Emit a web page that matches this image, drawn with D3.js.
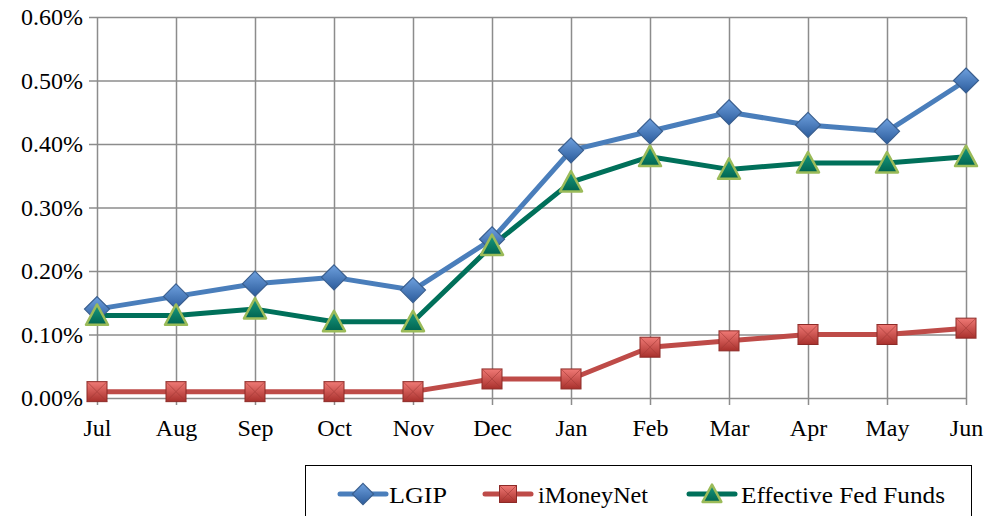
<!DOCTYPE html>
<html>
<head>
<meta charset="utf-8">
<script src="https://cdn.jsdelivr.net/npm/d3@7"></script>
<style>
  body { margin: 0; background: #fff; }
</style>
</head>
<body>
<div id="chart"></div>
<script>
var months = ["Jul", "Aug", "Sep", "Oct", "Nov", "Dec", "Jan", "Feb", "Mar", "Apr", "May", "Jun"];
var lgip = [0.14, 0.16, 0.18, 0.19, 0.17, 0.25, 0.39, 0.42, 0.45, 0.43, 0.42, 0.50];
var imoneynet = [0.01, 0.01, 0.01, 0.01, 0.01, 0.03, 0.03, 0.08, 0.09, 0.10, 0.10, 0.11];
var fedFunds = [0.13, 0.13, 0.14, 0.12, 0.12, 0.24, 0.34, 0.38, 0.36, 0.37, 0.37, 0.38];
var yTicks = [0, 0.1, 0.2, 0.3, 0.4, 0.5, 0.6];
var seriesNames = ["LGIP", "iMoneyNet", "Effective Fed Funds"];

var FONT = "Liberation Serif";

var svgWidth = 990, svgHeight = 516;
var margin = { top: 17, right: 24, bottom: 118, left: 97 };
var width = svgWidth - margin.left - margin.right;
var height = svgHeight - margin.top - margin.bottom;

var svg = d3.select("#chart").append("svg")
  .attr("width", svgWidth)
  .attr("height", svgHeight)
  .attr("font-family", FONT);

// gradients for the markers
var defs = svg.append("defs");
function grad(id, c1, c2) {
  var g = defs.append("linearGradient").attr("id", id)
    .attr("x1", 0).attr("y1", 0).attr("x2", 0).attr("y2", 1);
  g.append("stop").attr("offset", "0%").attr("stop-color", c1);
  g.append("stop").attr("offset", "100%").attr("stop-color", c2);
}
grad("gBlue", "#6ea0de", "#2c5c9c");
grad("gRed", "#f07a76", "#a8302c");
grad("gGreen", "#1a9a80", "#006450");

var chartGroup = svg.append("g")
  .attr("transform", `translate(${margin.left}, ${margin.top})`);

var xScale = d3.scalePoint().domain(months).range([0, width]);
var yScale = d3.scaleLinear().domain([0, 0.6]).range([height, 0]);

// horizontal grid + y labels
var yAxis = d3.axisLeft(yScale)
  .tickValues(yTicks)
  .tickSize(0)
  .tickFormat(d => d.toFixed(2) + "%");
var yg = chartGroup.append("g").call(yAxis)
  .attr("font-family", FONT).attr("font-size", 24);
yg.select(".domain").remove();
yg.selectAll(".tick line")
  .attr("x1", -8).attr("x2", width)
  .attr("stroke", "#8c8c8c").attr("stroke-width", 1.5);
yg.selectAll("text")
  .attr("font-family", FONT).attr("font-size", 24)
  .attr("fill", "#000").attr("dy", "0.33em").attr("x", -14);

// vertical grid + x labels
var xAxis = d3.axisBottom(xScale)
  .tickSize(height + 7)
  .tickPadding(14);
var xg = chartGroup.append("g").call(xAxis)
  .attr("font-family", FONT).attr("font-size", 24);
xg.select(".domain").remove();
xg.selectAll("line").attr("stroke", "#8c8c8c").attr("stroke-width", 1.5);
xg.selectAll("text")
  .attr("font-family", FONT).attr("font-size", 24).attr("fill", "#000");

// lines
var line = d3.line()
  .x((d, i) => xScale(months[i]))
  .y(d => yScale(d));

var series = [
  { name: seriesNames[0], values: lgip, color: "#4a7ebb", fill: "url(#gBlue)", edge: "#3a5f8f", shape: "diamond" },
  { name: seriesNames[1], values: imoneynet, color: "#be4b48", fill: "url(#gRed)", edge: "#8c2a27", shape: "square" },
  { name: seriesNames[2], values: fedFunds, color: "#00705a", fill: "url(#gGreen)", edge: "#9bbb59", shape: "triangle" }
];

function drawMarker(g, s, x, y, scale) {
  scale = scale || 1;
  if (s.shape === "diamond") {
    var r = 12.5 * scale;
    g.append("path")
      .attr("d", `M${x},${y - r}L${x + r},${y}L${x},${y + r}L${x - r},${y}Z`)
      .attr("fill", s.fill).attr("stroke", s.edge).attr("stroke-width", 1.2);
  } else if (s.shape === "square") {
    var h = 10 * scale;
    g.append("rect")
      .attr("x", x - h).attr("y", y - h).attr("width", 2 * h).attr("height", 2 * h)
      .attr("fill", s.fill).attr("stroke", s.edge).attr("stroke-width", 1);
    g.append("path")
      .attr("d", `M${x - h},${y - h}L${x + h},${y + h}M${x + h},${y - h}L${x - h},${y + h}`)
      .attr("stroke", "#a33a36").attr("stroke-width", 1).attr("opacity", 0.6);
  } else {
    var w = 11 * scale;
    g.append("path")
      .attr("d", `M${x},${y - w}L${x + w},${y + w * 0.85}L${x - w},${y + w * 0.85}Z`)
      .attr("fill", s.fill).attr("stroke", s.edge).attr("stroke-width", 2.5)
      .attr("stroke-linejoin", "round");
  }
}

series.forEach(function(s) {
  chartGroup.append("path")
    .datum(s.values)
    .attr("d", line)
    .attr("fill", "none")
    .attr("stroke", s.color)
    .attr("stroke-width", 5)
    .attr("stroke-linejoin", "round");
});

series.forEach(function(s) {
  var mg = chartGroup.append("g");
  s.values.forEach(function(v, i) {
    drawMarker(mg, s, xScale(months[i]), yScale(v));
  });
});

// legend
var legend = svg.append("g");
legend.append("rect")
  .attr("x", 305.5).attr("y", 465.5)
  .attr("width", 666).attr("height", 70)
  .attr("fill", "#fff").attr("stroke", "#000").attr("stroke-width", 1);

var legendItems = [
  { x: 340, tx: 389, tw: 58 },
  { x: 485, tx: 538, tw: 110 },
  { x: 689, tx: 741, tw: 204 }
];
series.forEach(function(s, i) {
  var it = legendItems[i];
  var cy = 494;
  legend.append("line")
    .attr("x1", it.x).attr("x2", it.x + 46)
    .attr("y1", cy).attr("y2", cy)
    .attr("stroke", s.color).attr("stroke-width", 5).attr("stroke-linecap", "round");
  drawMarker(legend, s, it.x + 23, cy, 0.85);
  legend.append("text")
    .attr("x", it.tx).attr("y", cy + 9)
    .attr("font-family", FONT)
    .attr("font-size", 24)
    .attr("fill", "#000")
    .attr("textLength", it.tw)
    .attr("lengthAdjust", "spacingAndGlyphs")
    .text(s.name);
});
</script>
</body>
</html>
